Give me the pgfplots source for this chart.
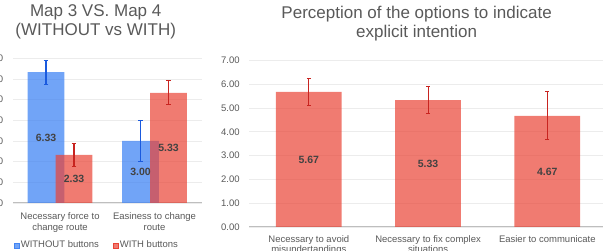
\documentclass[border=0pt]{standalone}
\usepackage{fontspec}
\setmainfont{Liberation Sans}
\usepackage{pgfplots}
\pgfplotsset{compat=1.18}
\definecolor{blueC}{RGB}{66,133,244}
\definecolor{redC}{RGB}{234,67,53}
\definecolor{blueE}{RGB}{26,90,222}
\definecolor{redE}{RGB}{200,36,32}
\definecolor{gridC}{RGB}{236,236,236}
\definecolor{baseC}{RGB}{190,190,190}
\definecolor{txtC}{RGB}{89,89,89}
\definecolor{lblC}{RGB}{66,66,66}
\pgfplotsset{
  common/.style={
    scale only axis,
    anchor=south west,
    ymin=0, ymax=7,
    ytick={0,1,2,3,4,5,6,7},
    axis x line=bottom, axis y line=left,
    x axis line style={baseC, line width=1pt, -},
    y axis line style={draw=none},
    major tick length=0pt,
    ymajorgrids, grid style={gridC, line width=0.8pt},
    /pgf/number format/assume math mode=true,
    yticklabel style={/pgf/number format/fixed, /pgf/number format/fixed zerofill, /pgf/number format/precision=2,
      font=\fontsize{9.5}{11}\selectfont, text=txtC, anchor=east, xshift=-6pt},
    xticklabel style={align=center, font=\fontsize{9.5}{10.5}\selectfont, text=txtC},
    title style={anchor=center, align=center, font=\fontsize{17}{19}\selectfont, text=txtC},
    clip=false,
  },
  lbl/.style={nodes near coords={\pgfmathprintnumber[fixed, fixed zerofill, precision=2, assume math mode=true]{\pgfplotspointmeta}},
    visualization depends on={rawy \as \rawy},
    every node near coord/.append style={anchor=center, yshift=-0.5*\rawy*#1,
      font=\fontsize{10.5}{12}\selectfont\bfseries, text=lblC, fill opacity=1, text opacity=1}},
}
\begin{document}
\begin{tikzpicture}[x=1pt,y=1pt]
\useasboundingbox (0,0) rectangle (603,251);
\clip (0,0) rectangle (603,251);
% ---------------- left chart
\begin{axis}[common,
  at={(12.75pt,48pt)}, width=189pt, height=144.7pt,
  xmin=-0.5, xmax=1.5, xtick={0,1},
  xticklabels={{Necessary force to\\change route},{Easiness to change\\route}},
  xticklabel style={yshift=-6.5pt},
  title={Map 3 VS. Map 4\\(WITHOUT vs WITH)},
  title style={at={(axis description cs:0.439,1.213)}},
  legend style={at={(axis description cs:0.005,-0.292)}, anchor=west, draw=none, fill=none,
    legend columns=2, font=\fontsize{9.5}{10.5}\selectfont, text=txtC,
    /tikz/every even column/.append style={column sep=12.5pt},
    inner sep=0pt, nodes={inner sep=1.5pt}},
]
\addlegendimage{legend image code/.code={\fill[blueC, fill opacity=0.75] (0pt,-2.5pt) rectangle (5pt,2.5pt);}}
\addlegendentry{WITHOUT buttons}
\addlegendimage{legend image code/.code={\fill[redC, fill opacity=0.7] (0pt,-2.5pt) rectangle (5pt,2.5pt);}}
\addlegendentry{WITH buttons}
% WITHOUT buttons (bars offset left of each category centre)
\addplot[ybar, forget plot, bar width=36.7pt, bar shift=0pt, fill=blueC, fill opacity=0.75, draw=none,
  lbl=20.671pt,
  error bars/.cd, y dir=both, y explicit,
  error bar style={blueE, line width=1.1pt, fill opacity=1, draw opacity=1},
  error mark options={rotate=90, mark size=2.4pt, blueE, line width=1pt, draw opacity=1}]
  coordinates {(-0.148,6.33) +- (0,0.58) (0.852,3.00) +- (0,1.00)};
% WITH buttons (bars offset right of each category centre)
\addplot[ybar, forget plot, bar width=36.7pt, bar shift=0pt, fill=redC, fill opacity=0.7, draw=none,
  lbl=20.671pt,
  error bars/.cd, y dir=both, y explicit,
  error bar style={redE, line width=1.1pt, fill opacity=1, draw opacity=1},
  error mark options={rotate=90, mark size=2.4pt, redE, line width=1pt, draw opacity=1}]
  coordinates {(0.148,2.33) +- (0,0.57) (1.148,5.33) +- (0,0.58)};
\end{axis}
% ---------------- right chart
\begin{axis}[common,
  at={(249.2pt,24pt)}, width=357.75pt, height=166.7pt,
  xmin=-0.5, xmax=2.5, xtick={0,1,2},
  xticklabels={{Necessary to avoid\\misundertandings},{Necessary to fix complex\\situations},{Easier to communicate}},
  xticklabel style={yshift=-5pt},
  title={Perception of the options to indicate\\explicit intention},
  title style={at={(axis description cs:0.468,1.187)}},
]
\addplot[ybar, forget plot, bar width=65.7pt, bar shift=0pt, fill=redC, fill opacity=0.7, draw=none,
  lbl=23.814pt,
  error bars/.cd, y dir=both, y explicit,
  error bar style={redE, line width=1pt, fill opacity=1, draw opacity=1},
  error mark options={rotate=90, mark size=2pt, redE, line width=1pt, draw opacity=1}]
  coordinates {(0,5.67) +- (0,0.58) (1,5.33) +- (0,0.58) (2,4.67) +- (0,1.00)};
\end{axis}
\end{tikzpicture}
\end{document}
